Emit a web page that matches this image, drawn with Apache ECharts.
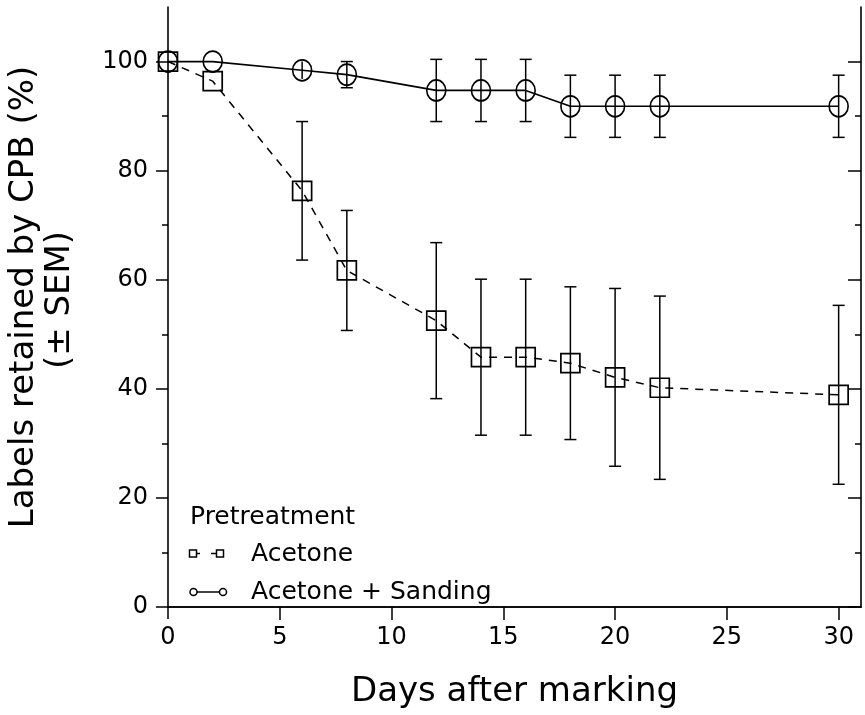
<!DOCTYPE html>
<html>
<head>
<meta charset="utf-8">
<script src="https://cdn.jsdelivr.net/npm/echarts@6/dist/echarts.min.js"></script>
<style>
  html, body { margin: 0; padding: 0; background: #fff; }
  #chart { width: 865px; height: 715px; }
</style>
</head>
<body>
<div id="chart"></div>
<script>
// Days after marking at which labels were counted
const days = [0, 2, 6, 8, 12, 14, 16, 18, 20, 22, 30];

// Acetone pretreatment: mean % retained and SEM
const acetoneMean = [100, 96.4, 76.3, 61.7, 52.5, 45.8, 45.8, 44.7, 42.1, 40.2, 38.9];
const acetoneSem  = [0, 0, 12.7, 11.0, 14.3, 14.3, 14.3, 14.0, 16.3, 16.8, 16.4];

// Acetone + sanding pretreatment: mean % retained and SEM
const sandingMean = [100, 100, 98.4, 97.6, 94.7, 94.7, 94.7, 91.8, 91.8, 91.8, 91.8];
const sandingSem  = [0, 0, 1.6, 2.4, 5.7, 5.7, 5.7, 5.7, 5.7, 5.7, 5.7];

const xTicks = [0, 5, 10, 15, 20, 25, 30];
const xTopTicks = [5, 10, 15, 20, 25, 30];
const yTicks = [0, 20, 40, 60, 80, 100];
const yMinorTicks = [10, 30, 50, 70, 90];

const FONT = '"DejaVu Sans", sans-serif';
const INK = '#000';

const chart = echarts.init(document.getElementById('chart'), null, { renderer: 'canvas' });

function pairs(xs, ys) { return xs.map((x, i) => [x, ys[i]]); }
function errRows(xs, ys, es) { return xs.map((x, i) => [x, ys[i], es[i]]); }

// Vertical SEM bar with end caps; caps are skipped when they would sit inside the marker
function errorBar(markerRadius) {
  return function (params, api) {
    const x = api.value(0), m = api.value(1), e = api.value(2);
    if (!e) return null;
    const top = api.coord([x, m + e]);
    const bot = api.coord([x, m - e]);
    const cap = 6;
    const children = [{
      type: 'line',
      shape: { x1: top[0], y1: top[1], x2: bot[0], y2: bot[1] },
      style: { stroke: INK, lineWidth: 1.5 }
    }];
    if (Math.abs(bot[1] - top[1]) / 2 > markerRadius) {
      children.push({
        type: 'line',
        shape: { x1: top[0] - cap, y1: top[1], x2: top[0] + cap, y2: top[1] },
        style: { stroke: INK, lineWidth: 1.5 }
      }, {
        type: 'line',
        shape: { x1: bot[0] - cap, y1: bot[1], x2: bot[0] + cap, y2: bot[1] },
        style: { stroke: INK, lineWidth: 1.5 }
      });
    }
    return { type: 'group', children: children };
  };
}

const valueAxisBase = {
  type: 'value',
  axisLine: { show: true, lineStyle: { color: INK, width: 1.6 } },
  splitLine: { show: false },
  axisLabel: { show: false },
};

const option = {
  animation: false,
  backgroundColor: '#fff',
  grid: { left: 168, right: 4, top: 7, bottom: 108, containLabel: false },
  xAxis: [
    Object.assign({}, valueAxisBase, {
      position: 'bottom', min: 0, max: 31,
      axisTick: { show: true, inside: false, length: 12, customValues: xTicks,
                  lineStyle: { color: INK, width: 1.5 } },
      axisLabel: { show: true, customValues: xTicks, color: INK, fontFamily: FONT,
                   fontSize: 24, margin: 19 },
      name: 'Days after marking', nameLocation: 'middle', nameGap: 68,
      nameTextStyle: { color: INK, fontFamily: FONT, fontSize: 34 }
    }),
    Object.assign({}, valueAxisBase, {
      position: 'top', min: 0, max: 31,
      axisTick: { show: true, inside: true, length: 13, customValues: xTopTicks,
                  lineStyle: { color: INK, width: 1.5 } }
    })
  ],
  yAxis: [
    Object.assign({}, valueAxisBase, {
      position: 'left', min: 0, max: 110,
      axisTick: { show: true, inside: false, length: 12, customValues: yTicks,
                  lineStyle: { color: INK, width: 1.5 } },
      axisLabel: { show: true, customValues: yTicks, color: INK, fontFamily: FONT,
                   fontSize: 24, margin: 20 }
    }),
    Object.assign({}, valueAxisBase, {
      position: 'left', min: 0, max: 110,
      axisLine: { show: false },
      axisTick: { show: true, inside: false, length: 6, customValues: yMinorTicks,
                  lineStyle: { color: INK, width: 1.5 } }
    }),
    Object.assign({}, valueAxisBase, {
      position: 'right', min: 0, max: 110,
      axisTick: { show: true, inside: true, length: 13, customValues: yTicks,
                  lineStyle: { color: INK, width: 1.5 } }
    }),
    Object.assign({}, valueAxisBase, {
      position: 'right', min: 0, max: 110,
      axisLine: { show: false },
      axisTick: { show: true, inside: true, length: 6, customValues: yMinorTicks,
                  lineStyle: { color: INK, width: 1.5 } }
    })
  ],
  series: [
    {
      name: 'Acetone SEM', type: 'custom', xAxisIndex: 0, yAxisIndex: 0,
      renderItem: errorBar(9), data: errRows(days, acetoneMean, acetoneSem), z: 2
    },
    {
      name: 'Acetone + Sanding SEM', type: 'custom', xAxisIndex: 0, yAxisIndex: 0,
      renderItem: errorBar(9.5), data: errRows(days, sandingMean, sandingSem), z: 2
    },
    {
      name: 'Acetone', type: 'line', xAxisIndex: 0, yAxisIndex: 0,
      data: pairs(days, acetoneMean),
      symbol: 'rect', symbolSize: 19, showAllSymbol: true,
      lineStyle: { color: INK, width: 1.5, type: [8, 7] },
      itemStyle: { color: 'rgba(0,0,0,0)', borderColor: INK, borderWidth: 1.7 },
      z: 3
    },
    {
      name: 'Acetone + Sanding', type: 'line', xAxisIndex: 0, yAxisIndex: 0,
      data: pairs(days, sandingMean),
      symbol: 'circle', symbolSize: [19, 21], showAllSymbol: true,
      lineStyle: { color: INK, width: 1.7 },
      itemStyle: { color: 'rgba(0,0,0,0)', borderColor: INK, borderWidth: 1.7 },
      z: 3
    }
  ],
  graphic: [
    // y-axis title, two rotated lines
    {
      type: 'text', x: 24, y: 297, rotation: Math.PI / 2,
      style: { text: 'Labels retained by CPB (%)', fill: INK, font: '34px ' + FONT,
               align: 'center', verticalAlign: 'middle' }
    },
    {
      type: 'text', x: 60, y: 300, rotation: Math.PI / 2,
      style: { text: '(± SEM)', fill: INK, font: '34px ' + FONT,
               align: 'center', verticalAlign: 'middle' }
    },
    // legend
    {
      type: 'text', x: 190, y: 517,
      style: { text: 'Pretreatment', fill: INK, font: '25px ' + FONT, verticalAlign: 'middle' }
    },
    { type: 'rect', shape: { x: 189.5, y: 550, width: 7, height: 7 },
      style: { fill: 'none', stroke: INK, lineWidth: 1.5 } },
    { type: 'line', shape: { x1: 196.5, y1: 553.5, x2: 200, y2: 553.5 },
      style: { stroke: INK, lineWidth: 1.5 } },
    { type: 'line', shape: { x1: 211, y1: 553.5, x2: 216, y2: 553.5 },
      style: { stroke: INK, lineWidth: 1.5 } },
    { type: 'rect', shape: { x: 216.5, y: 550, width: 7, height: 7 },
      style: { fill: 'none', stroke: INK, lineWidth: 1.5 } },
    {
      type: 'text', x: 251, y: 554,
      style: { text: 'Acetone', fill: INK, font: '25px ' + FONT, verticalAlign: 'middle' }
    },
    { type: 'circle', shape: { cx: 193.5, cy: 592, r: 3.5 },
      style: { fill: 'none', stroke: INK, lineWidth: 1.5 } },
    { type: 'line', shape: { x1: 197, y1: 592, x2: 219.5, y2: 592 },
      style: { stroke: INK, lineWidth: 1.5 } },
    { type: 'circle', shape: { cx: 223, cy: 592, r: 3.5 },
      style: { fill: 'none', stroke: INK, lineWidth: 1.5 } },
    {
      type: 'text', x: 251, y: 592,
      style: { text: 'Acetone + Sanding', fill: INK, font: '25px ' + FONT, verticalAlign: 'middle' }
    }
  ]
};

chart.setOption(option);
</script>
</body>
</html>
